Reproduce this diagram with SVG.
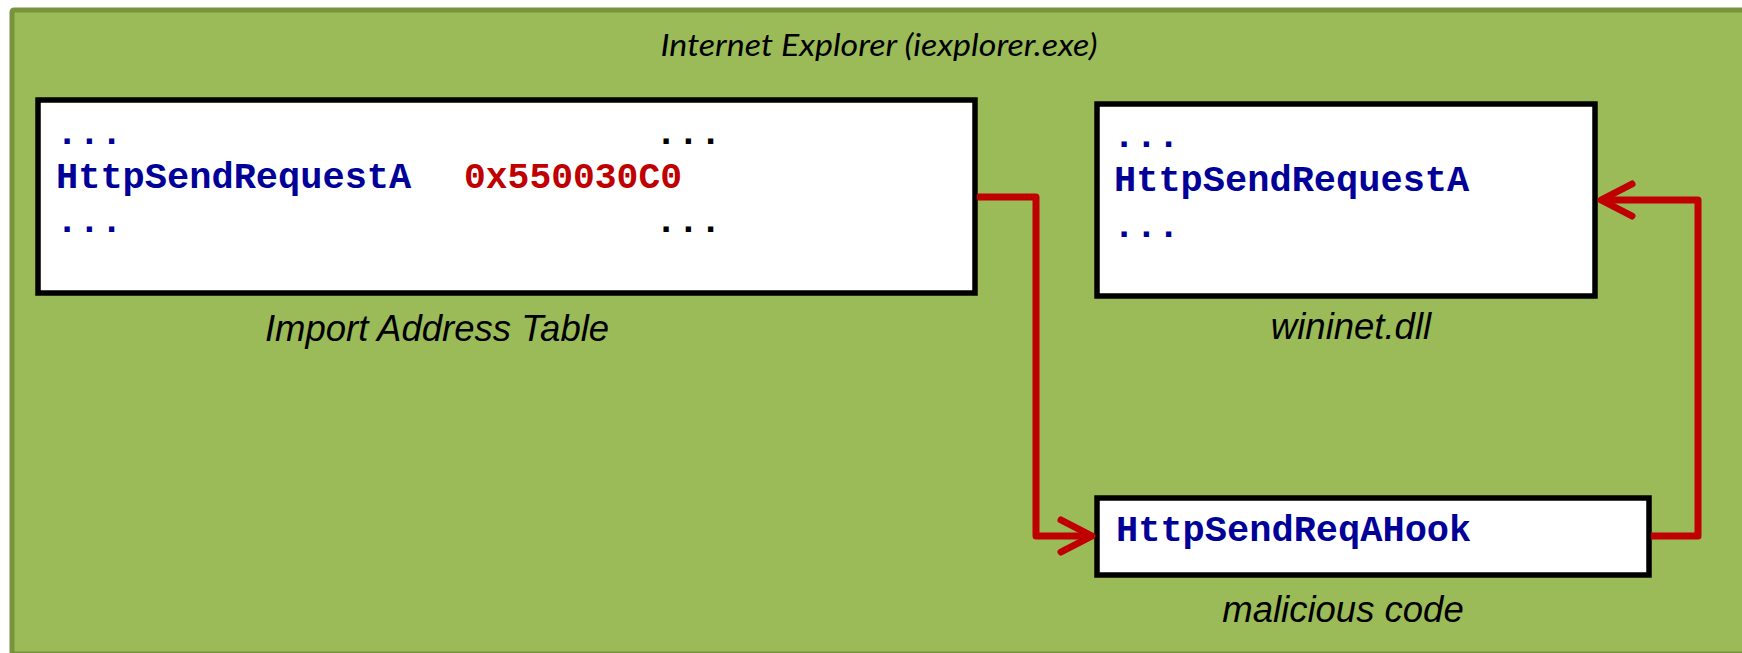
<svg xmlns="http://www.w3.org/2000/svg" width="1742" height="653" viewBox="0 0 1742 653">
  <style>
    .box { fill: #ffffff; stroke: #000000; stroke-width: 5.5; }
    .mono { font-family: "Liberation Mono", "Courier New", monospace; font-weight: bold; font-size: 37px; }
    .blue { fill: #000099; }
    .red { fill: #c00000; }
    .blk { fill: #000000; }
    .cap { font-family: "Liberation Sans", Arial, sans-serif; font-style: italic; font-size: 36.5px; fill: #000000; text-anchor: middle; }
    .title { font-family: Lato, "Liberation Sans", sans-serif; font-style: italic; font-size: 31px; fill: #000000; text-anchor: middle; }
    .conn { fill: none; stroke: #c00000; stroke-width: 7; stroke-linejoin: round; }
  </style>
  <defs>
    <marker id="chev" markerUnits="userSpaceOnUse" markerWidth="60" markerHeight="60" refX="0" refY="0" orient="auto" overflow="visible">
      <path d="M-31,-16 L0,0 L-31,16" fill="none" stroke="#c00000" stroke-width="7" stroke-linecap="round" stroke-linejoin="round"/>
    </marker>
  </defs>

  <g id="process">
    <rect x="12" y="10" width="1760" height="644" rx="2" fill="#9bbb59" stroke="#77933c" stroke-width="5"/>
    <text class="title" x="879" y="56" textLength="437" lengthAdjust="spacingAndGlyphs">Internet Explorer (iexplorer.exe)</text>
  </g>

  <g id="iat">
    <rect class="box" x="38" y="100" width="937" height="193"/>
    <text class="mono blue" x="56" y="143.5">...</text>
    <text class="mono blk" x="655" y="143.5">...</text>
    <text class="mono blue" x="56" y="188">HttpSendRequestA</text>
    <text class="mono red" x="464" y="188" textLength="218" lengthAdjust="spacingAndGlyphs">0x550030C0</text>
    <text class="mono blue" x="56" y="232">...</text>
    <text class="mono blk" x="655" y="232">...</text>
    <text class="cap" x="437" y="341">Import Address Table</text>
  </g>

  <g id="wininet">
    <rect class="box" x="1097" y="104" width="498" height="192"/>
    <text class="mono blue" x="1113" y="146.5">...</text>
    <text class="mono blue" x="1114" y="190.5">HttpSendRequestA</text>
    <text class="mono blue" x="1113" y="236.5">...</text>
    <text class="cap" x="1351" y="339">wininet.dll</text>
  </g>

  <g id="malicious">
    <rect class="box" x="1097" y="498" width="552" height="77"/>
    <text class="mono blue" x="1116" y="541">HttpSendReqAHook</text>
    <text class="cap" x="1343" y="622">malicious code</text>
  </g>

  <g id="connectors">
    <path class="conn" d="M977,197 H1036 V536 H1092" marker-end="url(#chev)"/>
    <path class="conn" d="M1651,536 H1698 V200 H1601" marker-end="url(#chev)"/>
  </g>
</svg>
